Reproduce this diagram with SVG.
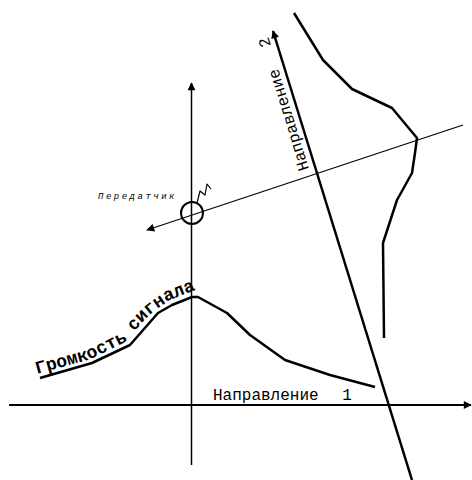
<svg xmlns="http://www.w3.org/2000/svg" width="472" height="480" viewBox="0 0 472 480">
<style>
.ln{fill:none;stroke:#000;stroke-linejoin:round;stroke-linecap:butt}
text{font-family:'Liberation Mono','Courier New',monospace;fill:#000}
</style>
<defs>
<marker id="ah" viewBox="0 0 10 10" refX="9" refY="5" markerWidth="10" markerHeight="8" markerUnits="userSpaceOnUse" orient="auto">
<path d="M0,0 L10,5 L0,10 z" fill="#000"/>
</marker>
<path id="sigpath" d="M37,374 L91,359 L127,341 Q142,320 157,309 L170,300 L205,286"/>
</defs>
<rect width="472" height="480" fill="#fff"/>
<g id="connectors">
<line id="axis-v" class="ln" x1="191.5" y1="465" x2="191.5" y2="83" stroke-width="1.5" marker-end="url(#ah)"/>
<line id="axis-1" class="ln" x1="9" y1="405" x2="471" y2="405" stroke-width="2" marker-end="url(#ah)"/>
<line id="axis-2" class="ln" x1="412" y1="480" x2="273" y2="31" stroke-width="2.5" marker-end="url(#ah)"/>
<line id="beam" class="ln" x1="463" y1="125" x2="147" y2="230" stroke-width="1.2" marker-end="url(#ah)"/>
</g>
<g id="signal-curve">
<polyline class="ln" stroke-width="2.5" points="40,378 92,363 130,345 158,313 172,305 192,297 198,297 227,313 250,335 285,360 330,375 375,387"/>
</g>
<g id="pattern-curve">
<polyline class="ln" stroke-width="2.5" points="294,13 323,60 352,89 392,108 417,138 415,153 412,173 397,200 383,243 384,338"/>
</g>
<g id="transmitter">
<circle cx="192" cy="213" r="11" fill="none" stroke="#000" stroke-width="2"/>
<polyline class="ln" stroke-width="1.2" points="197,203 200,191 205,195 207,184 211,189"/>
<text x="98" y="199" font-size="9" font-style="italic" letter-spacing="2.5">Передатчик</text>
</g>
<g id="label-signal">
<text font-size="18" font-weight="bold"><textPath href="#sigpath">Громкость сигнала</textPath></text>
</g>
<g id="label-dir1">
<text x="213" y="400" font-size="16">Направление <tspan dx="14">1</tspan></text>
</g>
<g id="label-dir2">
<text font-size="16" transform="translate(309,169) rotate(-107.1)">Направление <tspan dx="14">2</tspan></text>
</g>
</svg>
